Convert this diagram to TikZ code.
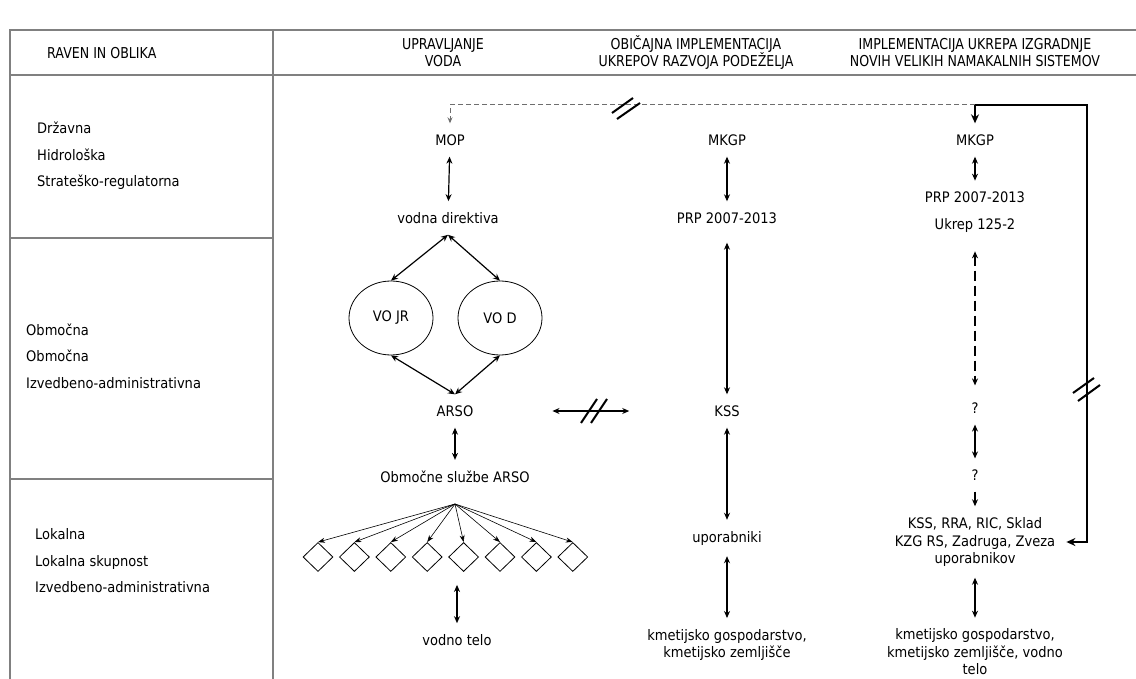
\documentclass[tikz,border=0pt]{standalone}
\usepackage{fontspec}
\setmainfont{DejaVu Sans}[FakeStretch=0.9]
\newfontfamily\hdrfont{DejaVu Sans}[FakeStretch=0.84]
\usepackage{tikz}
\usetikzlibrary{arrows.meta, positioning, shapes.geometric}
\usepackage{xcolor}
\definecolor{gridgray}{RGB}{128,128,128}
\definecolor{dashgray}{RGB}{110,110,110}

\tikzset{
  lbl/.style={font=\fontsize{14.5}{17.5}\selectfont, align=center, inner sep=11pt},
  hdr/.style={font=\hdrfont\fontsize{15}{17}\selectfont, align=center, inner sep=0pt},
  lvl/.style={font=\fontsize{14.5}{26.5}\selectfont, align=left, anchor=west, inner sep=0pt},
  voell/.style={ellipse, draw, line width=0.8pt, minimum width=84pt, minimum height=74pt,
    inner sep=0pt, font=\fontsize{14.5}{17}\selectfont},
  wbody/.style={diamond, draw, line width=0.8pt, minimum width=30pt, minimum height=29pt, inner sep=0pt},
  grid/.style={draw=gridgray, line width=1.5pt},
  biarr/.style={{Stealth[length=7pt,width=6pt]}-{Stealth[length=7pt,width=6pt]}, line width=1.2pt},
  onearr/.style={-{Stealth[length=7pt,width=6pt]}, line width=1.2pt},
  fanarr/.style={-{Stealth[length=7pt,width=5pt]}, line width=0.6pt},
  thk/.style={{Stealth[length=9pt,width=8pt]}-{Stealth[length=9pt,width=8pt]}, line width=2.2pt},
  brk/.style={line width=2pt},
}

\begin{document}
\begin{tikzpicture}[x=1pt, y=-1pt]
  \useasboundingbox (0,0) rectangle (1136,679);

  % table
  \draw[grid] (10,679) -- (10,30) -- (1136,30);
  \draw[grid] (10,75) -- (1136,75);
  \draw[grid] (273,30) -- (273,679);
  \draw[grid] (10,238) -- (273,238);
  \draw[grid] (10,479) -- (273,479);

  % header
  \node[hdr, anchor=west] (hlev) at (47,53) {RAVEN IN OBLIKA};
  \node[hdr] (hwat) at (443,53) {UPRAVLJANJE\\VODA};
  \node[hdr] (hrur) at (696,53) {OBIČAJNA IMPLEMENTACIJA\\UKREPOV RAZVOJA PODEŽELJA};
  \node[hdr] (hirr) at (975,53) {IMPLEMENTACIJA UKREPA IZGRADNJE\\NOVIH VELIKIH NAMAKALNIH SISTEMOV};

  % levels
  \node[lvl] (lnat) at (37,156) {Državna\\Hidrološka\\Strateško-regulatorna};
  \node[lvl] (lreg) at (26,356) {Območna\\Območna\\Izvedbeno-administrativna};
  \node[lvl] (lloc) at (35,561) {Lokalna\\Lokalna skupnost\\Izvedbeno-administrativna};

  % water management
  \node[lbl] (mop) at (450,140) {MOP};
  \node[lbl] (vd) at (448,218) {vodna direktiva};
  \node[voell] (vojr) at (391,318) {VO JR};
  \node[voell] (vod) at (500,318) {VO D};
  \node[lbl] (arso) at (455,411) {ARSO};
  \node[lbl] (osa) at (455,477) {Območne službe ARSO};
  \coordinate (fan) at (455,504);
  \foreach \i in {1,...,8}
    \node[wbody] (d\i) at ({281.6+36.4*\i},557) {};
  \node[lbl] (vt) at (457,640) {vodno telo};

  \draw[biarr] (mop) -- (vd);
  \draw[biarr] (vd.south) -- (vojr.north);
  \draw[biarr] (vd.south) -- (vod.north);
  \draw[biarr] (vojr.south) -- (arso.north);
  \draw[biarr] (vod.south) -- (arso.north);
  \draw[biarr, line width=2pt] (arso) -- (osa);
  \foreach \i in {1,...,8}
    \draw[fanarr] (fan) -- (d\i.north);
  \draw[biarr, shorten <=13pt] (vt.north |- d5.south) -- (vt.north);

  % rural development
  \node[lbl] (mkgpa) at (727,140) {MKGP};
  \node[lbl] (prpa) at (727,218) {PRP 2007-2013};
  \node[lbl] (kss) at (727,411) {KSS};
  \node[lbl] (upo) at (727,538) {uporabniki};
  \node[lbl] (farma) at (727,645) {kmetijsko gospodarstvo,\\kmetijsko zemljišče};

  \draw[biarr] (mkgpa) -- (prpa);
  \draw[biarr, shorten <=8pt] (prpa) -- (kss);
  \draw[biarr] (kss) -- (upo);
  \draw[biarr] (upo) -- (farma);
  \draw[biarr, shorten <=68pt, shorten >=74pt] (arso) -- (kss);
  \draw[brk] (581,423) -- (597,399);
  \draw[brk] (591,423) -- (607,399);

  % irrigation systems
  \node[lbl] (mkgpb) at (975,140) {MKGP};
  \node[lbl] (prpb) at (975,212) {PRP 2007-2013\\[9pt]Ukrep 125-2};
  \node[lbl] (qa) at (975,408) {?};
  \node[lbl] (qb) at (975,475) {?};
  \node[lbl] (ksb) at (975,542) {KSS, RRA, RIC, Sklad\\KZG RS, Zadruga, Zveza\\uporabnikov};
  \node[lbl] (farmb) at (975,652) {kmetijsko gospodarstvo,\\kmetijsko zemljišče, vodno\\telo};
  \coordinate (tr) at (1087,105);

  \draw[biarr] (mkgpb) -- (prpb);
  \draw[biarr, dash pattern=on 10pt off 5pt, shorten <=8pt, shorten >=6pt] (prpb) -- (qa);
  \draw[biarr] (qa) -- (qb);
  \draw[onearr] (qb) -- (ksb);
  \draw[biarr] (ksb) -- (farmb);

  % links between columns
  \draw[thk] (mkgpb.north) -- (mkgpb.north |- tr) -- (tr) |- (ksb.east);
  \draw[dashgray, line width=1pt, dash pattern=on 5pt off 3pt, -{Stealth[length=6pt,width=5pt]}]
    (mkgpb.north |- tr) -| (mop.north);
  \draw[brk] (612,113) -- (633,98);
  \draw[brk] (617,119) -- (640,103);
  \draw[brk] (1073,393) -- (1094,378);
  \draw[brk] (1078,401) -- (1100,385);
\end{tikzpicture}
\end{document}
